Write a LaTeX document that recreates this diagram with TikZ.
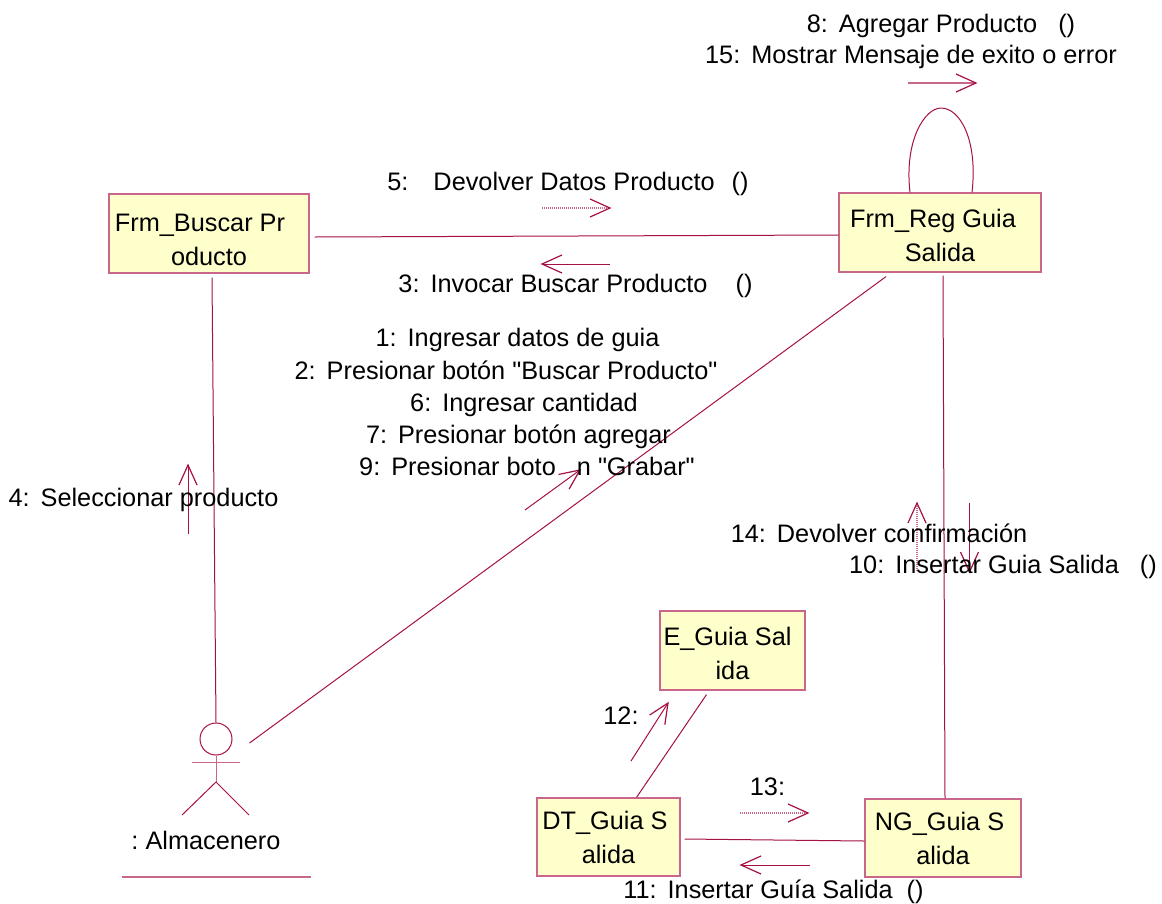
\documentclass[tikz,border=0pt]{standalone}
\usepackage{fontspec}
\setmainfont[Ligatures=TeXOff]{Liberation Sans}
\definecolor{umlline}{HTML}{A51046}
\definecolor{umlpale}{HTML}{C9668C}
\definecolor{umlfill}{HTML}{FFFFCC}
\newcommand{\boxlift}[1]{\rule{0pt}{#1pt}}
\newcommand{\numgap}{\hspace{11pt}}
\pgfdeclarearrow{
	name=umlvee,
	setup code={\pgfarrowssettipend{0pt}\pgfarrowssetlineend{-1pt}\pgfarrowssetbackend{-20pt}},
	drawing code={
		\pgfsetdash{}{0pt}
		\pgfsetlinewidth{1.2pt}
		\pgfsetstrokecolor{umlline}
		\pgfpathmoveto{\pgfpoint{-20pt}{9pt}}
		\pgfpathlineto{\pgfpointorigin}
		\pgfpathlineto{\pgfpoint{-20pt}{-9pt}}
		\pgfusepathqstroke
	}
}
\tikzset{
	objbox/.style={draw=umlpale, line width=1.2pt, fill=umlfill, inner sep=0pt, align=center, font=\fontsize{25.3}{34}\selectfont},
	assoc/.style={draw=umlline, line width=1pt},
	msg/.style={draw=umlpale, line width=1.2pt, arrows={-umlvee}},
	msgdot/.style={msg, dash pattern=on 1pt off 1pt},
	msgline/.style={msg, draw=umlline, line width=1pt},
	msglabel/.style={inner sep=0pt, anchor=base, yshift=-8.5pt, font=\fontsize{25.3}{32}\selectfont}
}
\begin{document}
\begin{tikzpicture}[x=1pt, y=-1pt]
	\useasboundingbox (0,0) rectangle (1162,903);
	\node [objbox, minimum width=200pt, minimum height=79pt] (buscar) at (209,233.5) {\boxlift{30}Frm\_Buscar Pr\hspace*{18pt}\\oducto};
	\node [objbox, minimum width=202pt, minimum height=79pt] (reg) at (940,232.5) {\boxlift{24}Frm\_Reg Guia\hspace*{14pt}\\Salida};
	\node [objbox, minimum width=145pt, minimum height=79pt] (eguia) at (732.5,650.5) {\boxlift{25}E\_Guia Sal\hspace*{10pt}\\ida};
	\node [objbox, minimum width=143pt, minimum height=78pt] (dtguia) at (608.5,837) {\boxlift{20}DT\_Guia S\hspace*{7pt}\\alida};
	\node [objbox, minimum width=156pt, minimum height=78pt] (ngguia) at (943,838) {\boxlift{20}NG\_Guia S\hspace*{7pt}\\alida};
	\node [circle, assoc, draw, minimum size=32pt, inner sep=0pt] (actor) at (216,739) {};
	\node [msglabel] (actorname) at (206,841) {:~Almacenero};
	\coordinate (hip) at (216,782);
	\coordinate (armL) at (192,762);
	\coordinate (armR) at (240,762);
	\coordinate (legL) at (182,815);
	\coordinate (legR) at (249,815);
	\coordinate (lineL) at (122,877);
	\coordinate (lineR) at (311,877);
	\draw [assoc, draw=umlpale] (actor.south) -- (hip);
	\draw [assoc, draw=umlpale] (armL) -- (armR);
	\draw [assoc] (legL) -- (hip) -- (legR);
	\draw [assoc, draw=umlpale, line width=1.2pt] (lineL) -- (lineR);
	\draw [assoc] ([xshift=5pt,yshift=-3.5pt]buscar.east) -- ([yshift=-2.5pt]reg.west);
	\draw [assoc] ([xshift=3pt,yshift=-4pt]buscar.south) -- (actor.north);
	\draw [assoc] ([xshift=-54pt,yshift=-4pt]reg.south) -- ([xshift=17pt,yshift=-4pt]actor.east);
	\draw [assoc] ([xshift=3pt,yshift=-3pt]reg.south) -- ([xshift=2pt]ngguia.north);
	\draw [assoc] ([xshift=-26pt,yshift=-4pt]eguia.south) -- ([xshift=28pt]dtguia.north);
	\draw [assoc] ([xshift=4pt,yshift=-2pt]dtguia.east) -- ([yshift=-3pt]ngguia.west);
	\draw [assoc] ([xshift=-30pt]reg.north) .. controls (904,140) and (925,108) .. (941,108) .. controls (960,108) and (978,140) .. ([xshift=32pt]reg.north);
	\coordinate (m8a) at (908,83);
	\coordinate (m8b) at (976,83);
	\coordinate (m5a) at (542,208);
	\coordinate (m5b) at (610,208);
	\coordinate (m3a) at (610,264);
	\coordinate (m3b) at (542,264);
	\coordinate (m1a) at (525,510);
	\coordinate (m1b) at (580,470);
	\coordinate (m4a) at (188,534);
	\coordinate (m4b) at (188,465);
	\coordinate (m14a) at (917,571);
	\coordinate (m14b) at (917,503);
	\coordinate (m10a) at (969.5,503);
	\coordinate (m10b) at (969.5,572);
	\coordinate (m12a) at (631,761);
	\coordinate (m12b) at (668,703);
	\coordinate (m13a) at (740,813);
	\coordinate (m13b) at (808,813);
	\coordinate (m11a) at (810,865);
	\coordinate (m11b) at (741,865);
	\draw [msg] (m8a) -- (m8b);
	\draw [msgdot] (m5a) -- (m5b);
	\draw [msgline] (m3a) -- (m3b);
	\draw [msgline] (m1a) -- (m1b);
	\draw [msgline] (m4a) -- (m4b);
	\draw [msgdot] (m14a) -- (m14b);
	\draw [msgline] (m10a) -- (m10b);
	\draw [msgline] (m12a) -- (m12b);
	\draw [msgdot] (m13a) -- (m13b);
	\draw [msgline] (m11a) -- (m11b);
	\node [msglabel] (t8) at (941,24) {8:\numgap Agregar Producto~~~()};
	\node [msglabel] (t15) at (911,55) {15:\numgap Mostrar Mensaje de exito o error};
	\node [msglabel] (t5) at (568,182) {5:\hspace{25pt}Devolver Datos Producto~\hspace{10pt}()};
	\node [msglabel] (t3) at (575.5,284) {3:\numgap Invocar Buscar Producto~~~~()};
	\node [msglabel] (t1) at (517.5,338) {1:\numgap Ingresar datos de guia};
	\node [msglabel] (t2) at (506,371) {2:\numgap Presionar botón "Buscar Producto"};
	\node [msglabel] (t6) at (524,403) {6:\numgap Ingresar cantidad};
	\node [msglabel] (t7) at (518.5,435) {7:\numgap Presionar botón agregar};
	\node [msglabel] (t9) at (527,467) {9:\numgap Presionar boto~~~n "Grabar"};
	\node [msglabel] (t4) at (143.5,498) {4:\numgap Seleccionar producto};
	\node [msglabel] (t14) at (879,534) {14:\numgap Devolver confirmación};
	\node [msglabel] (t10) at (1003,565) {10:\numgap Insertar Guia Salida~~~()};
	\node [msglabel] (t12) at (621,716) {12:};
	\node [msglabel] (t13) at (767.5,787) {13:};
	\node [msglabel] (t11) at (773.5,890) {11:\numgap Insertar Guía Salida~~()};
\end{tikzpicture}
\end{document}
